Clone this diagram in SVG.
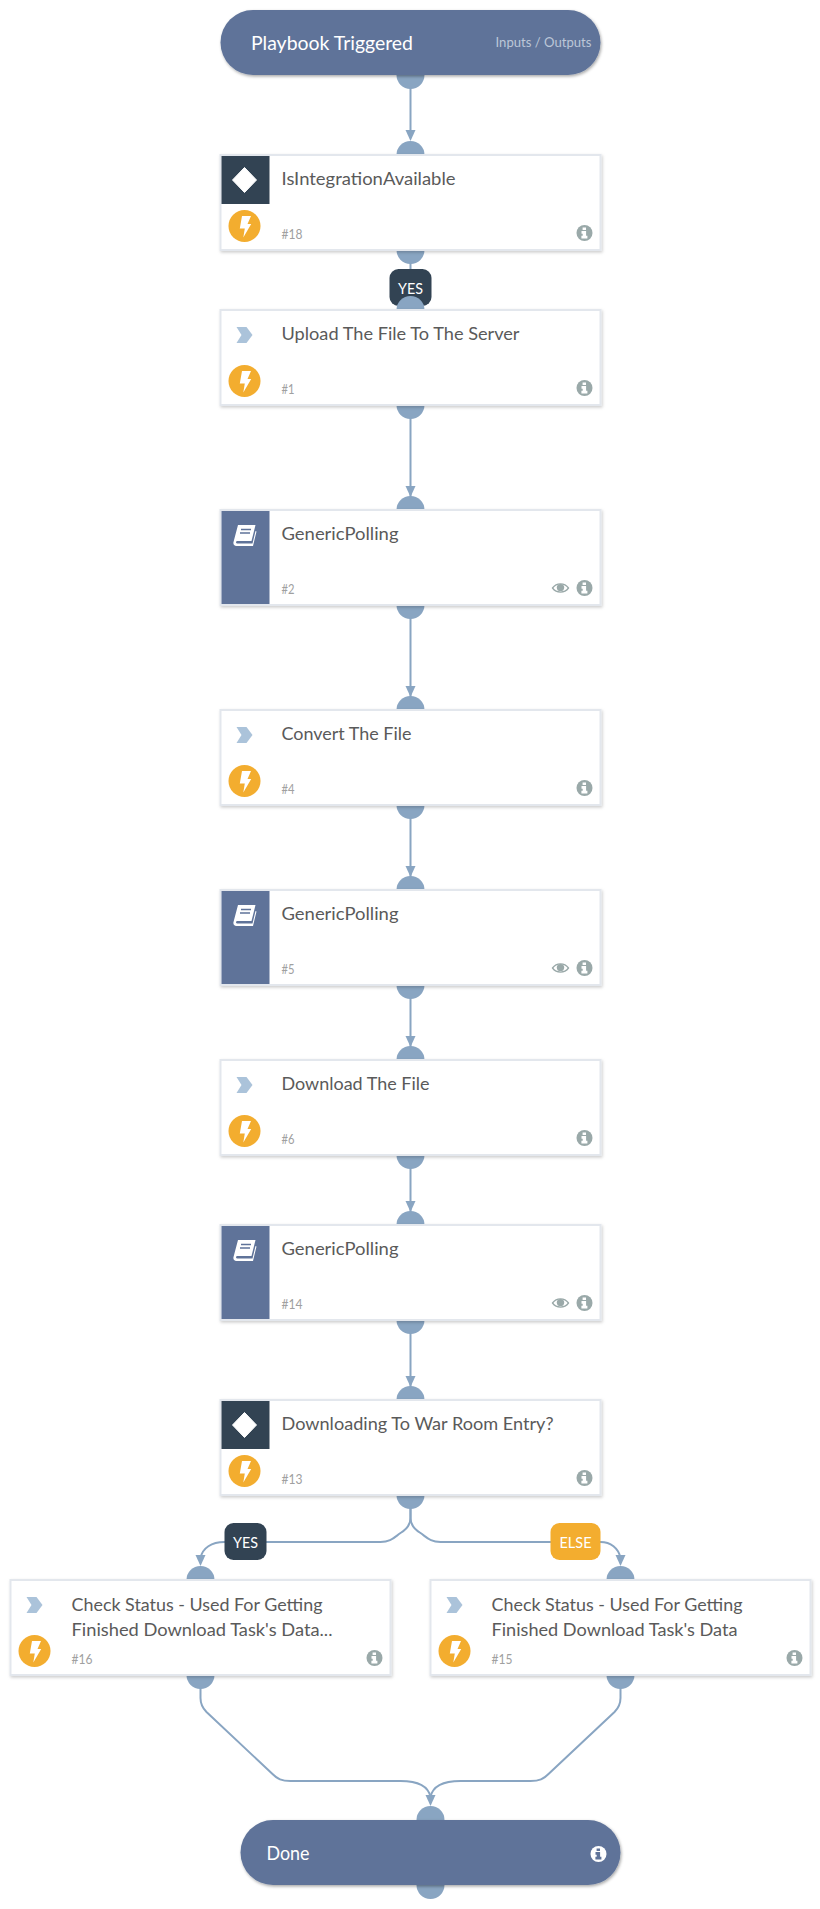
<svg xmlns="http://www.w3.org/2000/svg" width="820" height="1909" viewBox="0 0 820 1909">
<style>
text{font-family:Lato,"Noto Sans",sans-serif}
.card{fill:#fff;stroke:#e3e7ed;stroke-width:2;filter:url(#sh)}
.pill{fill:#5f7399;filter:url(#sh2)}
.port{fill:#89a5c2}
.edge{fill:none;stroke:#89a5c2;stroke-width:2}
.title{font-size:18px;fill:#5a5a5a;transform:translateY(1px)}
.num{font-size:13px;fill:#a0a0a0}
.big{font-size:20px;fill:#fff;transform:translateY(.5px)}
.io{font-size:14px;fill:#bcc7d8}
.badge{font-size:15px;fill:#fff;text-anchor:middle}
</style>
<defs>
<filter id="sh" x="-5%" y="-10%" width="110%" height="125%"><feDropShadow dx="1" dy="1.5" stdDeviation="1.5" flood-color="#000" flood-opacity=".2"/></filter>
<filter id="sh2" x="-5%" y="-10%" width="110%" height="125%"><feDropShadow dx="1" dy="1.5" stdDeviation="1.5" flood-color="#000" flood-opacity=".35"/></filter>
<g id="bolt"><circle r="16" fill="#f3ad2f"/><path d="M-2.500-10H6.500L3-2H6.700L-1.200 11.500 .3 2.500H-4.700Z" fill="#fff"/></g>
<g id="info"><circle r="8" fill="#9aa9a9"/><path d="M-1.900-5.600h3.400v2.600h-3.400zM-3-1.900h4.600v4.600h1.300v2.700h-6v-2.700h1.300v-1.900h-1.200z" fill="#fff"/></g>
<g id="infow"><circle r="8" fill="#fff"/><path d="M-1.900-5.600h3.400v2.600h-3.400zM-3-1.900h4.600v4.600h1.300v2.700h-6v-2.700h1.300v-1.900h-1.200z" fill="#5f7399"/></g>
<g id="eye"><path d="M-8 0C-4-5.500 4-5.500 8 0 4 5.500-4 5.500-8 0Z" fill="none" stroke="#9aa9a9" stroke-width="1.300"/><circle r="3.700" cy="-.4" fill="#9aa9a9"/></g>
<path id="chev" d="M236-8h10l6 8-6 8h-10l5-8z" fill="#abc3da"/>
<g id="book"><path d="M237.500 15H255L251 31H237C235 31 235 33.500 237 33.500H252L255 21 256 21.500 252.500 36H236C233.500 36 232.500 34 233 32Z" fill="#fff"/><path d="M240.500 19.500H250.500M239.500 23H249.500" stroke="#5f7399" stroke-width="1.500"/></g>
<path id="arrow" d="M-5-11H5L0 0Z" fill="#89a5c2"/>
</defs>
<g transform="translate(.5 0)">
<g id="connectors">
<path class="edge" d="M410 85V132M410 260V280M410 400V497M410 600V697M410 800V877M410 980V1047M410 1150V1212M410 1320V1387"/>
<use href="#arrow" x="410" y="141"/><use href="#arrow" x="410" y="497"/><use href="#arrow" x="410" y="697"/><use href="#arrow" x="410" y="877"/><use href="#arrow" x="410" y="1047"/><use href="#arrow" x="410" y="1212"/><use href="#arrow" x="410" y="1387"/>
<path class="edge" d="M410 1505V1518C410 1525 405 1530 400 1533C393 1538 390 1542 380 1542H224C211 1542 202 1548 200 1558"/>
<path class="edge" d="M410 1505V1518C410 1525 415 1530 420 1533C427 1538 430 1542 440 1542H600C610 1542 618 1548 620 1558"/>
<use href="#arrow" x="200" y="1566"/><use href="#arrow" x="620" y="1566"/>
<path class="edge" d="M200 1685V1698C200 1704 202 1708 206 1712L272 1774C277 1779 281 1781 290 1781H400C418 1781 428 1787 430 1797"/>
<path class="edge" d="M620 1685V1698C620 1704 618 1708 614 1712L548 1774C543 1779 539 1781 530 1781H460C442 1781 432 1787 430 1797"/>
<use href="#arrow" x="430" y="1806"/>
<g id="badge-yes-1"><rect x="389" y="269" width="42" height="37" rx="9" fill="#324353"/><text class="badge" x="410" y="294" textLength="25" lengthAdjust="spacingAndGlyphs">YES</text></g>
<g id="badge-yes-2"><rect x="224" y="1523" width="42" height="37" rx="9" fill="#324353"/><text class="badge" x="245" y="1548" textLength="25" lengthAdjust="spacingAndGlyphs">YES</text></g>
<g id="badge-else"><rect x="550" y="1523" width="50" height="37" rx="9" fill="#f3ad2f"/><text class="badge" x="575" y="1548" textLength="32" lengthAdjust="spacingAndGlyphs">ELSE</text></g>
</g>

<g id="node-start"><circle class="port" cx="410" cy="75" r="14"/><rect class="pill" x="220" y="10" width="380" height="65" rx="32.500"/><text class="big" x="250.500" y="49" textLength="162" lengthAdjust="spacingAndGlyphs">Playbook Triggered</text><text class="io" x="495" y="47" textLength="96" lengthAdjust="spacingAndGlyphs">Inputs / Outputs</text></g>

<g id="node-18" transform="translate(0 155)"><circle class="port" cx="410" r="14"/><circle class="port" cx="410" cy="95" r="14"/><rect class="card" x="220" width="380" height="95"/><rect x="221" y="1" width="48" height="48" fill="#324353"/><path d="M244 12.500 256 25 244 37.500 232 25Z" fill="#fff" stroke="#fff" stroke-linejoin="round"/><use href="#bolt" x="244" y="71"/><text class="title" x="281" y="29" textLength="174" lengthAdjust="spacingAndGlyphs">IsIntegrationAvailable</text><text class="num" x="281" y="84" textLength="21" lengthAdjust="spacingAndGlyphs">#18</text><use href="#info" x="584" y="78"/></g>

<g id="node-1" transform="translate(0 310)"><circle class="port" cx="410" r="14"/><circle class="port" cx="410" cy="95" r="14"/><rect class="card" x="220" width="380" height="95"/><use href="#chev" y="25"/><use href="#bolt" x="244" y="71"/><text class="title" x="281" y="29" textLength="238" lengthAdjust="spacingAndGlyphs">Upload The File To The Server</text><text class="num" x="281" y="84" textLength="13" lengthAdjust="spacingAndGlyphs">#1</text><use href="#info" x="584" y="78"/></g>

<g id="node-2" transform="translate(0 510)"><circle class="port" cx="410" r="14"/><circle class="port" cx="410" cy="95" r="14"/><rect class="card" x="220" width="380" height="95"/><rect x="221" y="1" width="48" height="93" fill="#5f7399"/><use href="#book"/><text class="title" x="281" y="29" textLength="117" lengthAdjust="spacingAndGlyphs">GenericPolling</text><text class="num" x="281" y="84" textLength="13" lengthAdjust="spacingAndGlyphs">#2</text><use href="#eye" x="560" y="78"/><use href="#info" x="584" y="78"/></g>

<g id="node-4" transform="translate(0 710)"><circle class="port" cx="410" r="14"/><circle class="port" cx="410" cy="95" r="14"/><rect class="card" x="220" width="380" height="95"/><use href="#chev" y="25"/><use href="#bolt" x="244" y="71"/><text class="title" x="281" y="29" textLength="130" lengthAdjust="spacingAndGlyphs">Convert The File</text><text class="num" x="281" y="84" textLength="13" lengthAdjust="spacingAndGlyphs">#4</text><use href="#info" x="584" y="78"/></g>

<g id="node-5" transform="translate(0 890)"><circle class="port" cx="410" r="14"/><circle class="port" cx="410" cy="95" r="14"/><rect class="card" x="220" width="380" height="95"/><rect x="221" y="1" width="48" height="93" fill="#5f7399"/><use href="#book"/><text class="title" x="281" y="29" textLength="117" lengthAdjust="spacingAndGlyphs">GenericPolling</text><text class="num" x="281" y="84" textLength="13" lengthAdjust="spacingAndGlyphs">#5</text><use href="#eye" x="560" y="78"/><use href="#info" x="584" y="78"/></g>

<g id="node-6" transform="translate(0 1060)"><circle class="port" cx="410" r="14"/><circle class="port" cx="410" cy="95" r="14"/><rect class="card" x="220" width="380" height="95"/><use href="#chev" y="25"/><use href="#bolt" x="244" y="71"/><text class="title" x="281" y="29" textLength="148" lengthAdjust="spacingAndGlyphs">Download The File</text><text class="num" x="281" y="84" textLength="13" lengthAdjust="spacingAndGlyphs">#6</text><use href="#info" x="584" y="78"/></g>

<g id="node-14" transform="translate(0 1225)"><circle class="port" cx="410" r="14"/><circle class="port" cx="410" cy="95" r="14"/><rect class="card" x="220" width="380" height="95"/><rect x="221" y="1" width="48" height="93" fill="#5f7399"/><use href="#book"/><text class="title" x="281" y="29" textLength="117" lengthAdjust="spacingAndGlyphs">GenericPolling</text><text class="num" x="281" y="84" textLength="21" lengthAdjust="spacingAndGlyphs">#14</text><use href="#eye" x="560" y="78"/><use href="#info" x="584" y="78"/></g>

<g id="node-13" transform="translate(0 1400)"><circle class="port" cx="410" r="14"/><circle class="port" cx="410" cy="95" r="14"/><rect class="card" x="220" width="380" height="95"/><rect x="221" y="1" width="48" height="48" fill="#324353"/><path d="M244 12.500 256 25 244 37.500 232 25Z" fill="#fff" stroke="#fff" stroke-linejoin="round"/><use href="#bolt" x="244" y="71"/><text class="title" x="281" y="29" textLength="272" lengthAdjust="spacingAndGlyphs">Downloading To War Room Entry?</text><text class="num" x="281" y="84" textLength="21" lengthAdjust="spacingAndGlyphs">#13</text><use href="#info" x="584" y="78"/></g>

<g id="node-16" transform="translate(-210 1580)"><circle class="port" cx="410" r="14"/><circle class="port" cx="410" cy="95" r="14"/><rect class="card" x="220" width="380" height="95"/><use href="#chev" y="25"/><use href="#bolt" x="244" y="71"/><text class="title" x="281" y="29.500" textLength="251" lengthAdjust="spacingAndGlyphs">Check Status - Used For Getting</text><text class="title" x="281" y="54.500" textLength="261" lengthAdjust="spacingAndGlyphs">Finished Download Task's Data...</text><text class="num" x="281" y="84" textLength="21" lengthAdjust="spacingAndGlyphs">#16</text><use href="#info" x="584" y="78"/></g>

<g id="node-15" transform="translate(210 1580)"><circle class="port" cx="410" r="14"/><circle class="port" cx="410" cy="95" r="14"/><rect class="card" x="220" width="380" height="95"/><use href="#chev" y="25"/><use href="#bolt" x="244" y="71"/><text class="title" x="281" y="29.500" textLength="251" lengthAdjust="spacingAndGlyphs">Check Status - Used For Getting</text><text class="title" x="281" y="54.500" textLength="246" lengthAdjust="spacingAndGlyphs">Finished Download Task's Data</text><text class="num" x="281" y="84" textLength="21" lengthAdjust="spacingAndGlyphs">#15</text><use href="#info" x="584" y="78"/></g>

<g id="node-done"><circle class="port" cx="430" cy="1820" r="14"/><circle class="port" cx="430" cy="1885" r="14"/><rect class="pill" x="240" y="1820" width="380" height="65" rx="32.500"/><text class="big" x="266" y="1859" textLength="43" lengthAdjust="spacingAndGlyphs">Done</text><use href="#infow" x="598" y="1854"/></g>
</g>
</svg>
